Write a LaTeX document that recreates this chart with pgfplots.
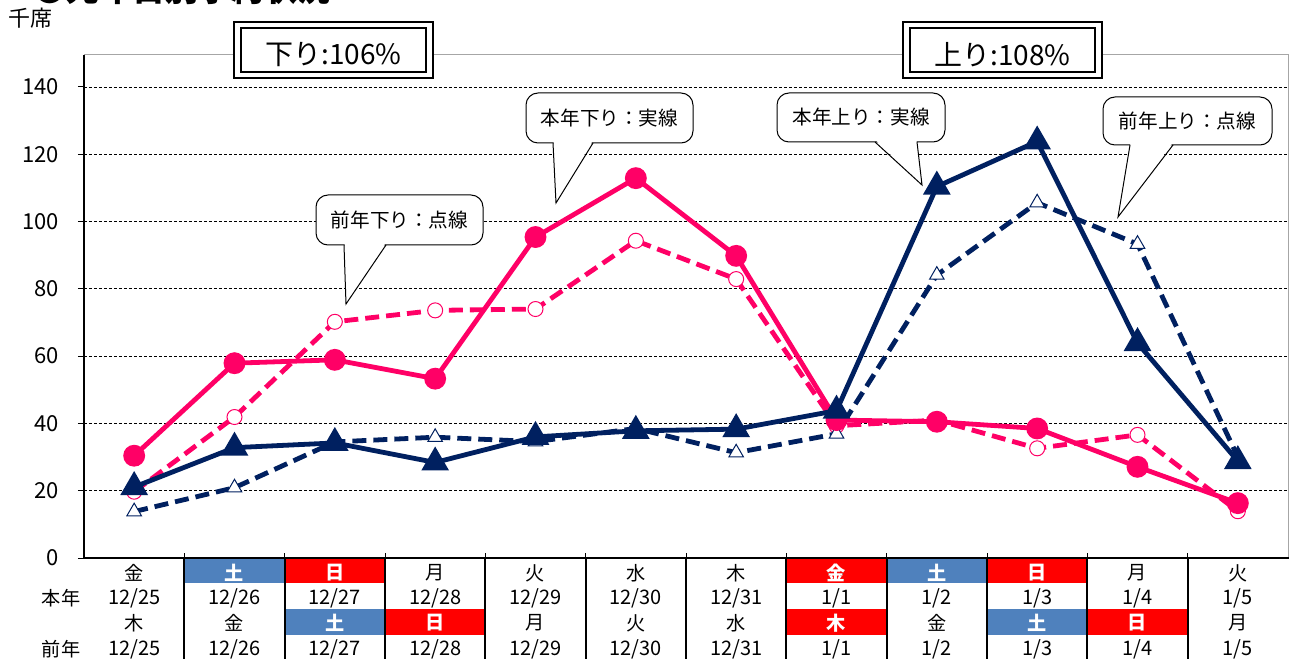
\documentclass[border=0pt]{standalone}
\usepackage{pgfplots}
\pgfplotsset{compat=1.18}
\usepackage{fontspec}
\setmainfont{Noto Sans CJK JP}
\definecolor{pk}{RGB}{255,0,102}
\definecolor{nv}{RGB}{0,32,96}
\definecolor{bl}{RGB}{79,129,189}
\definecolor{rd}{RGB}{255,0,0}
\begin{document}
\begin{tikzpicture}
\begin{axis}[
  at={(0,0)}, anchor=south west, scale only axis,
  width=602pt, height=251.5pt,
  xmin=-0.5, xmax=11.5, ymin=0, ymax=149.5,
  axis line style={draw=none},
  xtick=\empty,
  ytick={0,20,...,140},
  ytick pos=left, tick align=outside,
  major tick length=3pt,
  y tick style={black, line width=0.5pt},
  ymajorgrids,
  major grid style={black, line width=0.4pt, dash pattern=on 1.6pt off 0.9pt},
  yticklabel style={font=\fontsize{11}{13}\selectfont, xshift=-6pt},
  /pgf/number format/assume math mode=true,
  clip=false,
]
% 前年下り (dashed, open circles)
\addplot[pk, line width=2.4pt, dash pattern=on 7pt off 3.5pt, mark=*, mark size=3.75pt,
  mark options={solid, fill=white, draw=pk, line width=0.5pt}] coordinates {
  (0,19.7) (1,41.9) (2,70.2) (3,73.6) (4,74.0) (5,94.3) (6,82.9) (7,39.3) (8,41.0) (9,32.6) (10,36.6) (11,13.9)};
% 前年上り (dashed, open triangles)
\addplot[nv, line width=2.4pt, dash pattern=on 7pt off 3.5pt, mark=triangle*, mark size=4.2pt,
  mark options={solid, fill=white, draw=nv, line width=0.5pt}] coordinates {
  (0,13.8) (1,20.9) (2,34.5) (3,35.9) (4,34.6) (5,38.5) (6,31.3) (7,36.9) (8,84.1) (9,105.6) (10,93.3) (11,30.0)};
% 本年下り (solid, filled circles)
\addplot[pk, line width=2.4pt, mark=*, mark size=4.25pt,
  mark options={solid, fill=pk, draw=pk}] coordinates {
  (0,30.4) (1,57.9) (2,58.9) (3,53.3) (4,95.4) (5,112.9) (6,89.8) (7,41.0) (8,40.5) (9,38.5) (10,27.1) (11,16.3)};
% 本年上り (solid, filled triangles)
\addplot[nv, line width=2.4pt, mark=triangle*, mark size=5.6pt,
  mark options={solid, fill=nv, draw=nv}] coordinates {
  (0,21.1) (1,32.8) (2,34.2) (3,28.4) (4,36.0) (5,37.8) (6,38.3) (7,43.8) (8,110.4) (9,123.8) (10,63.9) (11,28.8)};
\end{axis}
\begin{scope}[x=0.5pt, y=-0.5pt, shift={(-42pt,279pt)}]
  % plot area borders
  \draw[gray!70, line width=0.5pt] (84,55) -- (1288,55) -- (1288,558);
  \draw[black, line width=1pt] (84,55) -- (84,558) -- (1289,558);
  % table cells
  \foreach \k/\c in {1/bl,2/rd,7/rd,8/bl,9/rd}
    \fill[\c] ({84+100.333*\k},559) rectangle ({84+100.333*(\k+1)},583);
  \foreach \k/\c in {2/bl,3/rd,7/rd,9/bl,10/rd}
    \fill[\c] ({84+100.333*\k},609) rectangle ({84+100.333*(\k+1)},635);
  \foreach \k in {1,...,11} {
    \draw[black, line width=0.5pt] ({84+100.333*\k},558) -- ({84+100.333*\k},553);
    \draw[black, line width=1pt] ({84+100.333*\k},558) -- ({84+100.333*\k},659);
  }
  % row 1: 本年 weekdays
  \foreach \t [count=\i from 0] in {金,土,日,月,火,水,木,金,土,日,月,火} {
    \node[font=\fontsize{9.6}{11}\selectfont, inner sep=0] at ({84+100.333*(\i+0.5)},573) {\t};
  }
  \foreach \i/\t in {1/土,2/日,7/金,8/土,9/日}
    \node[font=\fontsize{9.6}{11}\selectfont\bfseries, text=white, fill=none, inner sep=0] at ({84+100.333*(\i+0.5)},573) {\t};
  % row 2: 本年 dates
  \foreach \t [count=\i from 0] in {12/25,12/26,12/27,12/28,12/29,12/30,12/31,1/1,1/2,1/3,1/4,1/5} {
    \node[font=\fontsize{10}{12}\selectfont, inner sep=0] at ({84+100.333*(\i+0.5)},598) {\t};
  }
  % row 3: 前年 weekdays
  \foreach \t [count=\i from 0] in {木,金,土,日,月,火,水,木,金,土,日,月} {
    \node[font=\fontsize{9.6}{11}\selectfont, inner sep=0] at ({84+100.333*(\i+0.5)},623) {\t};
  }
  \foreach \i/\t in {2/土,3/日,7/木,9/土,10/日}
    \node[font=\fontsize{9.6}{11}\selectfont\bfseries, text=white, inner sep=0] at ({84+100.333*(\i+0.5)},623) {\t};
  % row 4: 前年 dates
  \foreach \t [count=\i from 0] in {12/25,12/26,12/27,12/28,12/29,12/30,12/31,1/1,1/2,1/3,1/4,1/5} {
    \node[font=\fontsize{10}{12}\selectfont, inner sep=0] at ({84+100.333*(\i+0.5)},649) {\t};
  }
  \node[font=\fontsize{9.6}{11}\selectfont, inner sep=0] at (61,598) {本年};
  \node[font=\fontsize{9.6}{11}\selectfont, inner sep=0] at (61,649) {前年};
  % unit
  \node[font=\fontsize{11}{13}\selectfont, inner sep=0] at (31,18) {千席};
  % title (mostly cut off)
  \node[font=\fontsize{16.5}{18}\selectfont\bfseries, anchor=base west, inner sep=0] at (33,2) {●元年日別予約状況};
  % percentage boxes
  \foreach \xa/\xb/\t in {234/433/下り:106\%, 903/1102/上り:108\%} {
    \draw[fill=white, line width=1pt] (\xa,22) rectangle (\xb,78);
    \draw[line width=1.4pt] (\xa+7,28) rectangle (\xb-7,72);
    \node[font=\fontsize{14}{16}\selectfont, inner sep=0] at ({(\xa+\xb)/2},55) {\t};
  }
  % callouts
  \foreach \xa/\ya/\xb/\yb/\ba/\bb/\tx/\ty/\t in {
      316/195/483/245/344/386/346/304/前年下り：点線,
      526/93/693/143/553/593/556/203/本年下り：実線,
      777/93/945/142/875/917/922/185/本年上り：実線,
      1103/97/1272/145/1130/1173/1118/217/前年上り：点線} {
    \draw[fill=white, line width=0.5pt, rounded corners=6pt] (\xa,\ya) rectangle (\xb,\yb);
    \fill[white] (\ba+0.5,\yb-2) -- (\tx,\ty) -- (\bb-0.5,\yb-2) -- cycle;
    \draw[line width=0.5pt] (\ba,\yb) -- (\tx,\ty) -- (\bb,\yb);
    \node[font=\fontsize{9.8}{12}\selectfont, inner sep=0] at ({(\xa+\xb)/2},{(\ya+\yb)/2}) {\t};
  }
  \pgfresetboundingbox
  \useasboundingbox (0,0) rectangle (1290,659);
\end{scope}
\end{tikzpicture}
\end{document}
